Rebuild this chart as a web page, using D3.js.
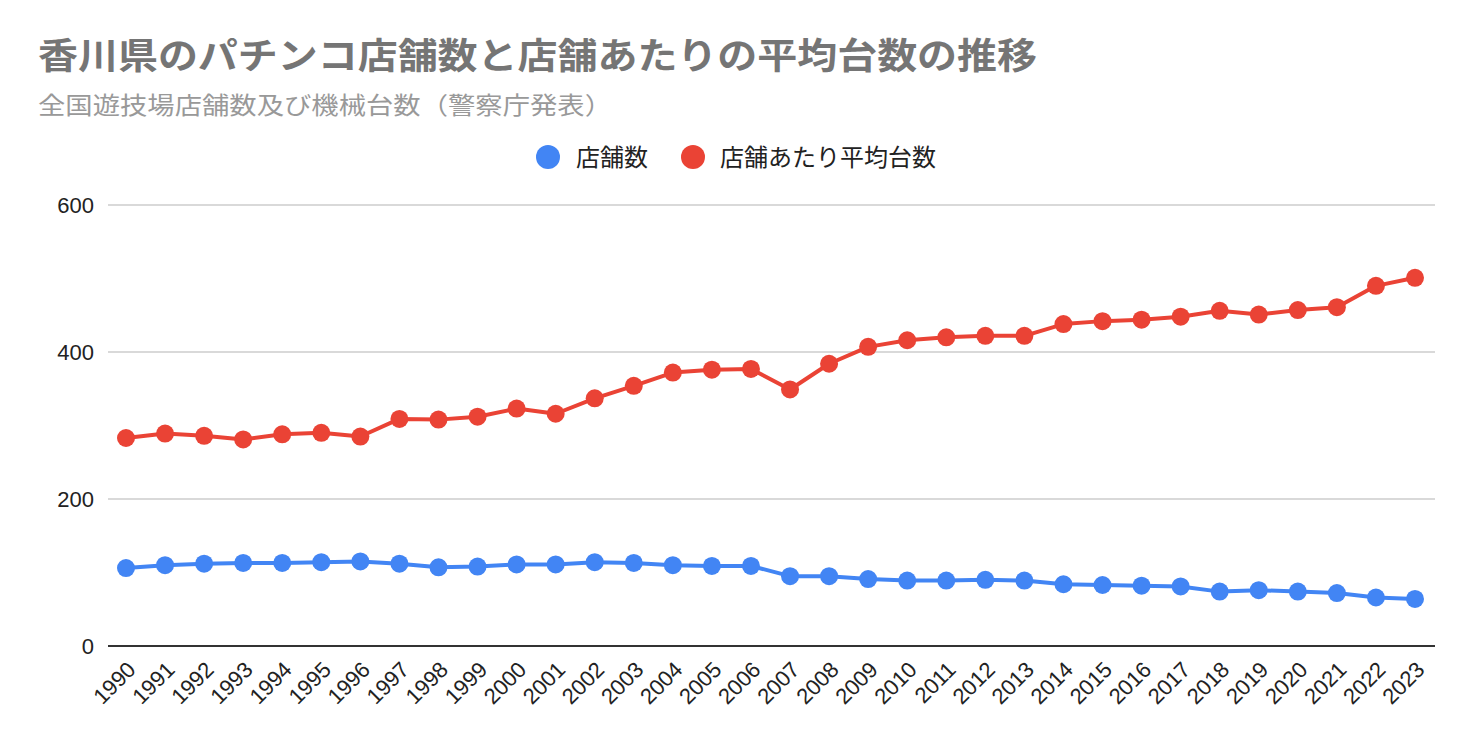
<!DOCTYPE html>
<html><head><meta charset="utf-8">
<script src="https://cdn.jsdelivr.net/npm/d3@7/dist/d3.min.js"></script>
<style>body{margin:0;background:#fff;}svg{display:block;}</style>
</head><body>
<svg id="c" width="1472" height="742"></svg>
<script>
const years = ["1990","1991","1992","1993","1994","1995","1996","1997","1998","1999","2000","2001","2002","2003","2004","2005","2006","2007","2008","2009","2010","2011","2012","2013","2014","2015","2016","2017","2018","2019","2020","2021","2022","2023"];
const storeCount = [106,110,112,113,113,114,115,112,107,108,111,111,114,113,110,109,109,95,95,91,89,89,90,89,84,83,82,81,74,76,74,72,66,64];
const avgMachines = [283,289,286,281,288,290,285,309,308,312,323,316,337,354,372,376,377,349,384,407,416,420,422,422,438,442,444,448,456,451,457,461,490,501];
const yTicks = [0,200,400,600];
const seriesNames = ["店舗数","店舗あたり平均台数"];
const colors = ["#4285F4","#EA4335"];

(function(){
const svg = d3.select("#c");
const pL = 108, pR = 1435, pT = 205, pB = 646;
const x = d3.scalePoint().domain(years).range([126,1415]);
const y = d3.scaleLinear().domain([0,600]).range([pB, pT]);

svg.append("text").attr("x",38).attr("y",69)
  .attr("font-family","'Noto Sans CJK JP'").attr("font-weight","bold").attr("font-size",36)
  .attr("fill","#757575").attr("textLength",999).attr("lengthAdjust","spacingAndGlyphs")
  .text("香川県のパチンコ店舗数と店舗あたりの平均台数の推移");
svg.append("text").attr("x",38).attr("y",114)
  .attr("font-family","'Noto Sans CJK JP'").attr("font-size",24)
  .attr("fill","#999999").attr("textLength",574).attr("lengthAdjust","spacingAndGlyphs")
  .text("全国遊技場店舗数及び機械台数（警察庁発表）");

const leg = [{cx:548,tx:576},{cx:693,tx:720}];
leg.forEach((l,i)=>{
  svg.append("circle").attr("cx",l.cx).attr("cy",157).attr("r",12).attr("fill",colors[i]);
  svg.append("text").attr("x",l.tx).attr("y",166).attr("font-family","'Noto Sans CJK JP'")
    .attr("font-size",24).attr("fill","#222").text(seriesNames[i]);
});

const g = svg.append("g");
yTicks.forEach(t=>{
  g.append("line").attr("x1",pL).attr("x2",pR).attr("y1",y(t)).attr("y2",y(t))
   .attr("stroke", t===0 ? "#333" : "#cccccc").attr("stroke-width", t===0?2:1.5);
  g.append("text").attr("x",94).attr("y",y(t)).attr("dy","0.35em").attr("text-anchor","end")
   .attr("font-family","'Liberation Sans', Arial").attr("font-size",22).attr("fill","#222").text(t);
});

years.forEach(yr=>{
  svg.append("text").attr("transform",`translate(${x(yr)+11},${671}) rotate(-45)`)
   .attr("text-anchor","end")
   .attr("font-family","'Liberation Sans', Arial").attr("font-size",22).attr("fill","#222").text(yr);
});

const line = d3.line().x((d,i)=>x(years[i])).y(d=>y(d));
[storeCount, avgMachines].forEach((s,i)=>{
  svg.append("path").datum(s).attr("d",line).attr("fill","none").attr("stroke",colors[i]).attr("stroke-width",4).attr("stroke-linejoin","round");
  svg.append("g").selectAll("circle").data(s).join("circle")
    .attr("cx",(d,j)=>x(years[j])).attr("cy",d=>y(d)).attr("r",9).attr("fill",colors[i]);
});
})();
</script>
</body></html>
